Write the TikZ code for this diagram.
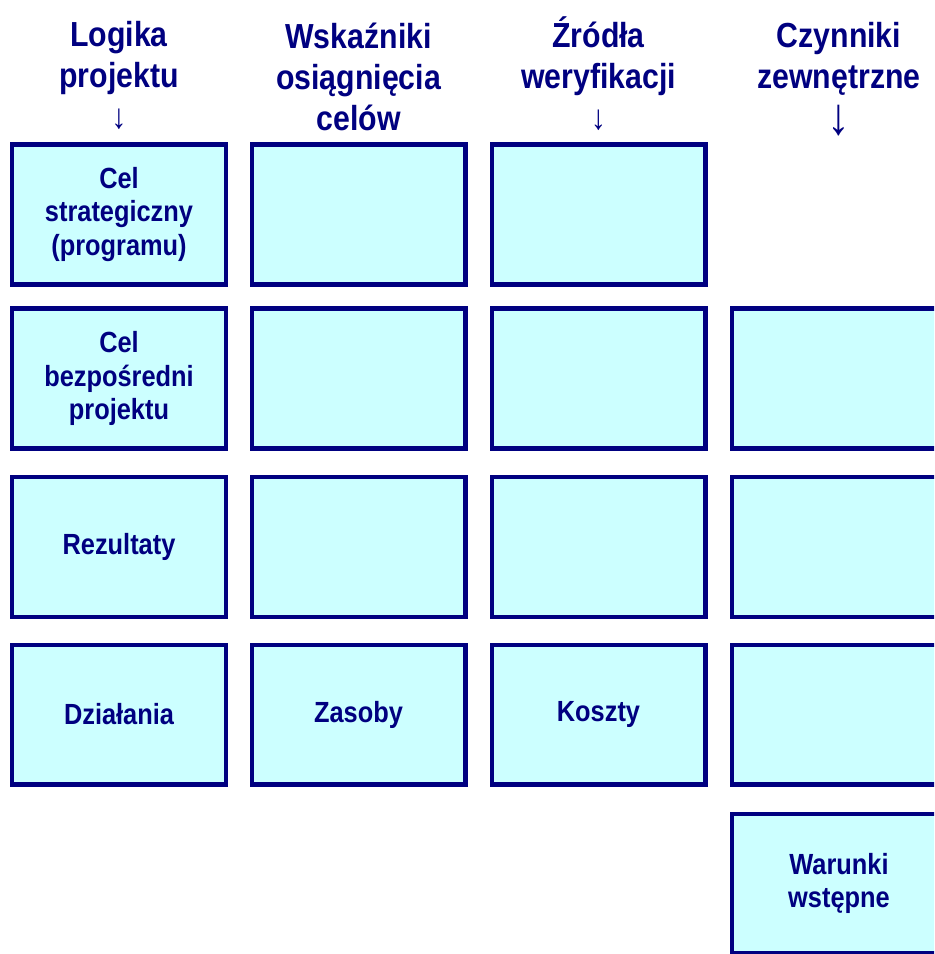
\documentclass[tikz,border=0pt]{standalone}
\usepackage{fontspec}
\setmainfont{Liberation Sans}[FakeStretch=0.87]
\usepackage{xcolor}
\definecolor{granat}{HTML}{000080}
\definecolor{blekit}{HTML}{CCFFFF}

\begin{document}
\begin{tikzpicture}[x=0.02cm,y=-0.02cm,
    pole/.style={draw=granat,fill=blekit,line width=2.3pt,minimum width=4.28cm,minimum height=2.8cm,inner sep=0pt,align=center,text=granat,font=\bfseries\fontsize{16.6}{19}\selectfont},
    naglowek/.style={anchor=base,align=center,text=granat,inner sep=0pt,font=\bfseries\fontsize{19.8}{23.3}\selectfont},
    strzalka/.style={text=granat,inner sep=0pt,font=\fontsize{19.8}{23.3}\selectfont}]%
  \useasboundingbox (0,0) rectangle (934,954);%
  \clip (0,0) rectangle (934,954);%
  % naglowki kolumn
  \node [naglowek] (hL) at (119,87) {Logika\\projektu};%
  \node [naglowek] (hW) at (358.5,130) {Wskaźniki\\osiągnięcia\\celów};%
  \node [naglowek] (hZ) at (598.5,88) {Źródła\\weryfikacji};%
  \node [naglowek] (hC) at (839,88) {Czynniki\\zewnętrzne};%
  \node [strzalka] (aL) at (119,119) {↓};%
  \node [strzalka] (aZ) at (598.5,120) {↓};%
  \node [strzalka,scale=1.5] (aC) at (839,120.5) {↓};%
  % wiersz 1
  \node [pole] (L1) at (119,214.5) {Cel\\strategiczny\\(programu)};%
  \node [pole] (W1) at (358.5,214.5) {};%
  \node [pole] (Z1) at (598.5,214.5) {};%
  % wiersz 2
  \node [pole] (L2) at (119,378.5) {Cel\\bezpośredni\\projektu};%
  \node [pole] (W2) at (358.5,378.5) {};%
  \node [pole] (Z2) at (598.5,378.5) {};%
  \node [pole] (C2) at (839,378.5) {};%
  % wiersz 3
  \node [pole] (L3) at (119,547) {Rezultaty};%
  \node [pole] (W3) at (358.5,547) {};%
  \node [pole] (Z3) at (598.5,547) {};%
  \node [pole] (C3) at (839,547) {};%
  % wiersz 4
  \node [pole] (L4) at (119,714.5) {Działania};%
  \node [pole] (W4) at (358.5,714.5) {Zasoby};%
  \node [pole] (Z4) at (598.5,714.5) {Koszty};%
  \node [pole] (C4) at (839,714.5) {};%
  % wiersz 5
  \node [pole] (C5) at (839,883.5) {Warunki\\wstępne};%
\end{tikzpicture}
\end{document}
